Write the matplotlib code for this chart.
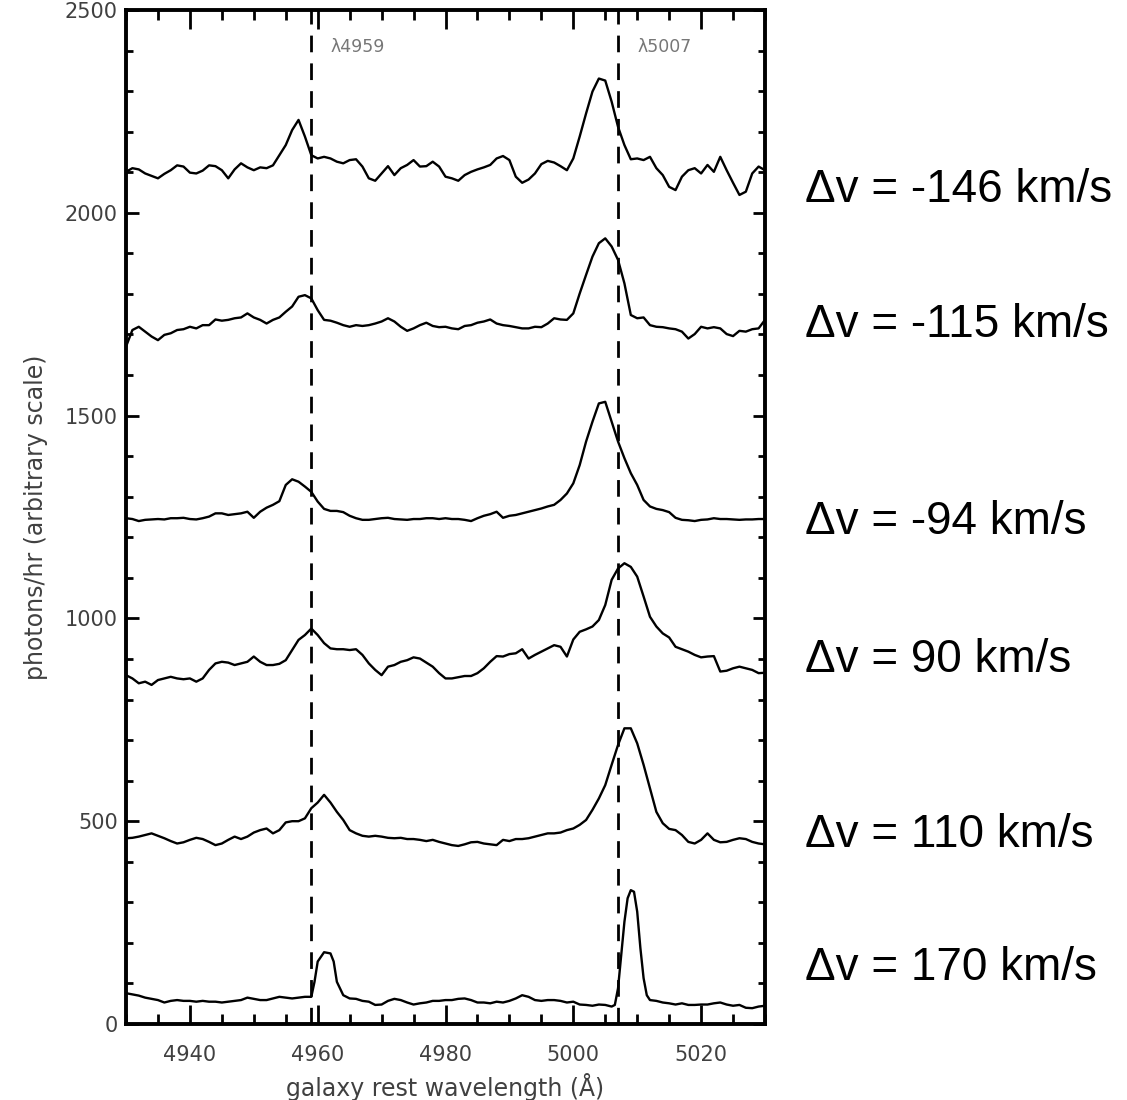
import numpy as np
import matplotlib
matplotlib.use("Agg")
import matplotlib.pyplot as plt
from matplotlib.ticker import MultipleLocator

# ---------------- data ----------------
wl = list(range(4930, 5031))  # common 1-Angstrom grid (galaxy rest wavelength)

flux_m146 = [2101, 2110, 2107, 2097, 2091, 2085, 2096, 2105, 2117, 2114,
             2099, 2097, 2104, 2117, 2115, 2105, 2085, 2107, 2122, 2112,
             2105, 2112, 2110, 2117, 2142, 2167, 2204, 2229, 2188, 2142,
             2134, 2138, 2134, 2126, 2122, 2130, 2132, 2114, 2085, 2079,
             2097, 2115, 2093, 2110, 2118, 2130, 2114, 2115, 2126, 2114,
             2089, 2085, 2079, 2093, 2101, 2107, 2112, 2118, 2134, 2140,
             2130, 2089, 2074, 2082, 2097, 2120, 2128, 2124, 2115, 2105,
             2134, 2188, 2245, 2299, 2331, 2326, 2274, 2212, 2167, 2132,
             2134, 2130, 2138, 2110, 2093, 2064, 2056, 2089, 2105, 2110,
             2097, 2118, 2101, 2138, 2105, 2074, 2044, 2052, 2097, 2114,
             2105]

flux_m115 = [1670, 1711, 1719, 1707, 1695, 1686, 1699, 1703, 1711, 1713,
             1719, 1715, 1723, 1723, 1737, 1734, 1736, 1740, 1742, 1752,
             1742, 1736, 1727, 1736, 1742, 1756, 1769, 1793, 1797, 1789,
             1760, 1736, 1734, 1729, 1723, 1719, 1723, 1721, 1723, 1727,
             1732, 1740, 1732, 1719, 1709, 1715, 1723, 1729, 1721, 1718,
             1719, 1715, 1713, 1721, 1723, 1729, 1732, 1737, 1727, 1723,
             1721, 1718, 1715, 1715, 1719, 1718, 1727, 1740, 1737, 1736,
             1752, 1801, 1847, 1892, 1925, 1937, 1917, 1884, 1826, 1748,
             1740, 1742, 1723, 1719, 1718, 1715, 1713, 1707, 1690, 1701,
             1719, 1715, 1718, 1715, 1701, 1696, 1709, 1707, 1713, 1715,
             1736]

flux_m94 = [1247, 1245, 1240, 1243, 1244, 1245, 1244, 1247, 1247, 1248,
            1245, 1244, 1247, 1251, 1259, 1259, 1255, 1257, 1259, 1263,
            1248, 1263, 1273, 1280, 1289, 1329, 1343, 1337, 1325, 1312,
            1288, 1270, 1265, 1265, 1262, 1253, 1247, 1243, 1243, 1245,
            1247, 1248, 1245, 1244, 1243, 1245, 1245, 1247, 1247, 1245,
            1247, 1245, 1245, 1243, 1240, 1247, 1253, 1257, 1263, 1248,
            1253, 1255, 1259, 1263, 1267, 1271, 1276, 1280, 1292, 1308,
            1333, 1378, 1436, 1485, 1530, 1534, 1485, 1436, 1395, 1358,
            1329, 1292, 1276, 1270, 1267, 1262, 1248, 1243, 1242, 1240,
            1243, 1244, 1247, 1245, 1245, 1244, 1243, 1244, 1244, 1245,
            1245]

flux_p90 = [860, 852, 840, 844, 836, 848, 852, 856, 852, 850,
            852, 844, 852, 873, 889, 893, 891, 885, 889, 893,
            906, 893, 885, 885, 888, 897, 922, 947, 959, 975,
            959, 939, 926, 924, 924, 922, 924, 910, 889, 873,
            860, 881, 885, 893, 897, 904, 901, 891, 881, 865,
            852, 852, 855, 858, 858, 865, 877, 893, 907, 906,
            912, 914, 924, 901, 910, 918, 926, 934, 930, 906,
            948, 967, 973, 980, 996, 1033, 1095, 1123, 1136, 1127,
            1103, 1054, 1004, 980, 963, 953, 930, 924, 918, 910,
            904, 906, 907, 869, 871, 877, 881, 877, 873, 865,
            866]

flux_p110 = [458, 459, 462, 466, 470, 464, 458, 451, 445, 448,
             454, 459, 456, 449, 441, 445, 454, 462, 456, 462,
             472, 478, 482, 470, 478, 497, 500, 500, 507, 532,
             546, 565, 546, 523, 503, 478, 470, 464, 462, 464,
             462, 459, 458, 459, 456, 456, 454, 451, 454, 449,
             445, 441, 439, 443, 448, 449, 445, 443, 441, 454,
             451, 456, 456, 458, 462, 466, 470, 470, 472, 478,
             482, 491, 503, 528, 556, 589, 639, 688, 729, 729,
             692, 639, 581, 523, 495, 481, 478, 466, 449, 445,
             454, 470, 454, 448, 449, 454, 458, 456, 449, 445,
             443]

wl_p170 = [4930, 4931, 4932, 4933, 4934, 4935, 4936, 4937, 4938, 4939,
           4940, 4941, 4942, 4943, 4944, 4945, 4946, 4947, 4948, 4949,
           4950, 4951, 4952, 4953, 4954, 4955, 4956, 4957, 4958, 4959,
           4959.5, 4960, 4961, 4962, 4962.5, 4963, 4964, 4965, 4966, 4967,
           4968, 4969, 4970, 4971, 4972, 4973, 4974, 4975, 4976, 4977,
           4978, 4979, 4980, 4981, 4982, 4983, 4984, 4985, 4986, 4987,
           4988, 4989, 4990, 4991, 4992, 4993, 4994, 4995, 4996, 4997,
           4998, 4999, 5000, 5001, 5002, 5003, 5004, 5005, 5006, 5006.5,
           5007, 5007.5, 5008, 5008.5, 5009, 5009.5, 5010, 5010.5, 5011, 5011.5,
           5012, 5013, 5014, 5015, 5016, 5017, 5018, 5019, 5020, 5021,
           5022, 5023, 5024, 5025, 5026, 5027, 5028, 5029, 5030]
flux_p170 = [76, 73, 70, 65, 62, 59, 53, 57, 59, 57,
             57, 55, 57, 55, 55, 53, 55, 57, 59, 65,
             62, 59, 59, 63, 67, 65, 63, 65, 67, 67,
             104, 154, 177, 174, 154, 104, 71, 63, 62, 57,
             55, 47, 48, 57, 62, 59, 53, 48, 51, 53,
             57, 57, 59, 59, 62, 63, 59, 53, 53, 51,
             55, 53, 57, 63, 71, 67, 59, 57, 59, 59,
             57, 53, 55, 48, 47, 45, 48, 47, 43, 47,
             88, 170, 252, 310, 330, 326, 277, 187, 113, 71,
             59, 57, 53, 51, 48, 51, 47, 47, 48, 48,
             51, 53, 48, 45, 47, 40, 39, 43, 45]

series = [(wl, flux_m146), (wl, flux_m115), (wl, flux_m94),
          (wl, flux_p90), (wl, flux_p110), (wl_p170, flux_p170)]

dv_labels = ["\u0394v = -146 km/s", "\u0394v = -115 km/s", "\u0394v = -94 km/s",
             "\u0394v = 90 km/s", "\u0394v = 110 km/s", "\u0394v = 170 km/s"]
dv_label_y = [2056, 1723, 1238, 897, 466, 138]   # vertical anchor (data units)

lines_wl = [4959, 5007]
lines_txt = ["\u03bb4959", "\u03bb5007"]

x_ticks = [4940, 4960, 4980, 5000, 5020]
y_ticks = [0, 500, 1000, 1500, 2000, 2500]

# ---------------- figure ----------------
fig = plt.figure(figsize=(11.27, 11.0), dpi=100)
ax = fig.add_axes([126 / 1127, 1 - 1024 / 1100, (765 - 126) / 1127, (1024 - 10) / 1100])

for x, y in series:
    ax.plot(x, y, color="black", lw=1.7, solid_joinstyle="round")

for lw_, t in zip(lines_wl, lines_txt):
    ax.axvline(lw_, color="black", lw=2.0, linestyle=(0, (6, 4)))
    ax.text(lw_ + 3, 2410, t, fontsize=12.5, color="#777777", ha="left", va="center")

ax.set_xlim(4930, 5030)
ax.set_ylim(0, 2500)
ax.set_xticks(x_ticks)
ax.set_yticks(y_ticks)
ax.xaxis.set_minor_locator(MultipleLocator(5))
ax.yaxis.set_minor_locator(MultipleLocator(100))

ax.tick_params(axis="x", which="major", direction="in", length=14, width=2,
               top=True, bottom=True, labelsize=15, labelcolor="#404040", pad=15)
ax.tick_params(axis="x", which="minor", direction="in", length=7, width=2,
               top=True, bottom=True)
ax.tick_params(axis="y", which="major", direction="in", length=9, width=2,
               left=True, right=True, labelsize=15, labelcolor="#404040", pad=6)
ax.tick_params(axis="y", which="minor", direction="in", length=5, width=2,
               left=True, right=True)

for s in ax.spines.values():
    s.set_linewidth(2.8)

ax.set_xlabel("galaxy rest wavelength (\u00c5)", fontsize=17, color="#404040", labelpad=6)
ax.set_ylabel("photons/hr (arbitrary scale)", fontsize=17, color="#404040", labelpad=12)

for t, yv in zip(dv_labels, dv_label_y):
    ax.annotate(t, xy=(1, yv), xycoords=("axes fraction", "data"),
                xytext=(805 - 765, 0), textcoords="offset pixels",
                fontsize=33, family="Liberation Sans", color="black",
                ha="left", va="center", annotation_clip=False)

fig.savefig("out.png", dpi=100)
